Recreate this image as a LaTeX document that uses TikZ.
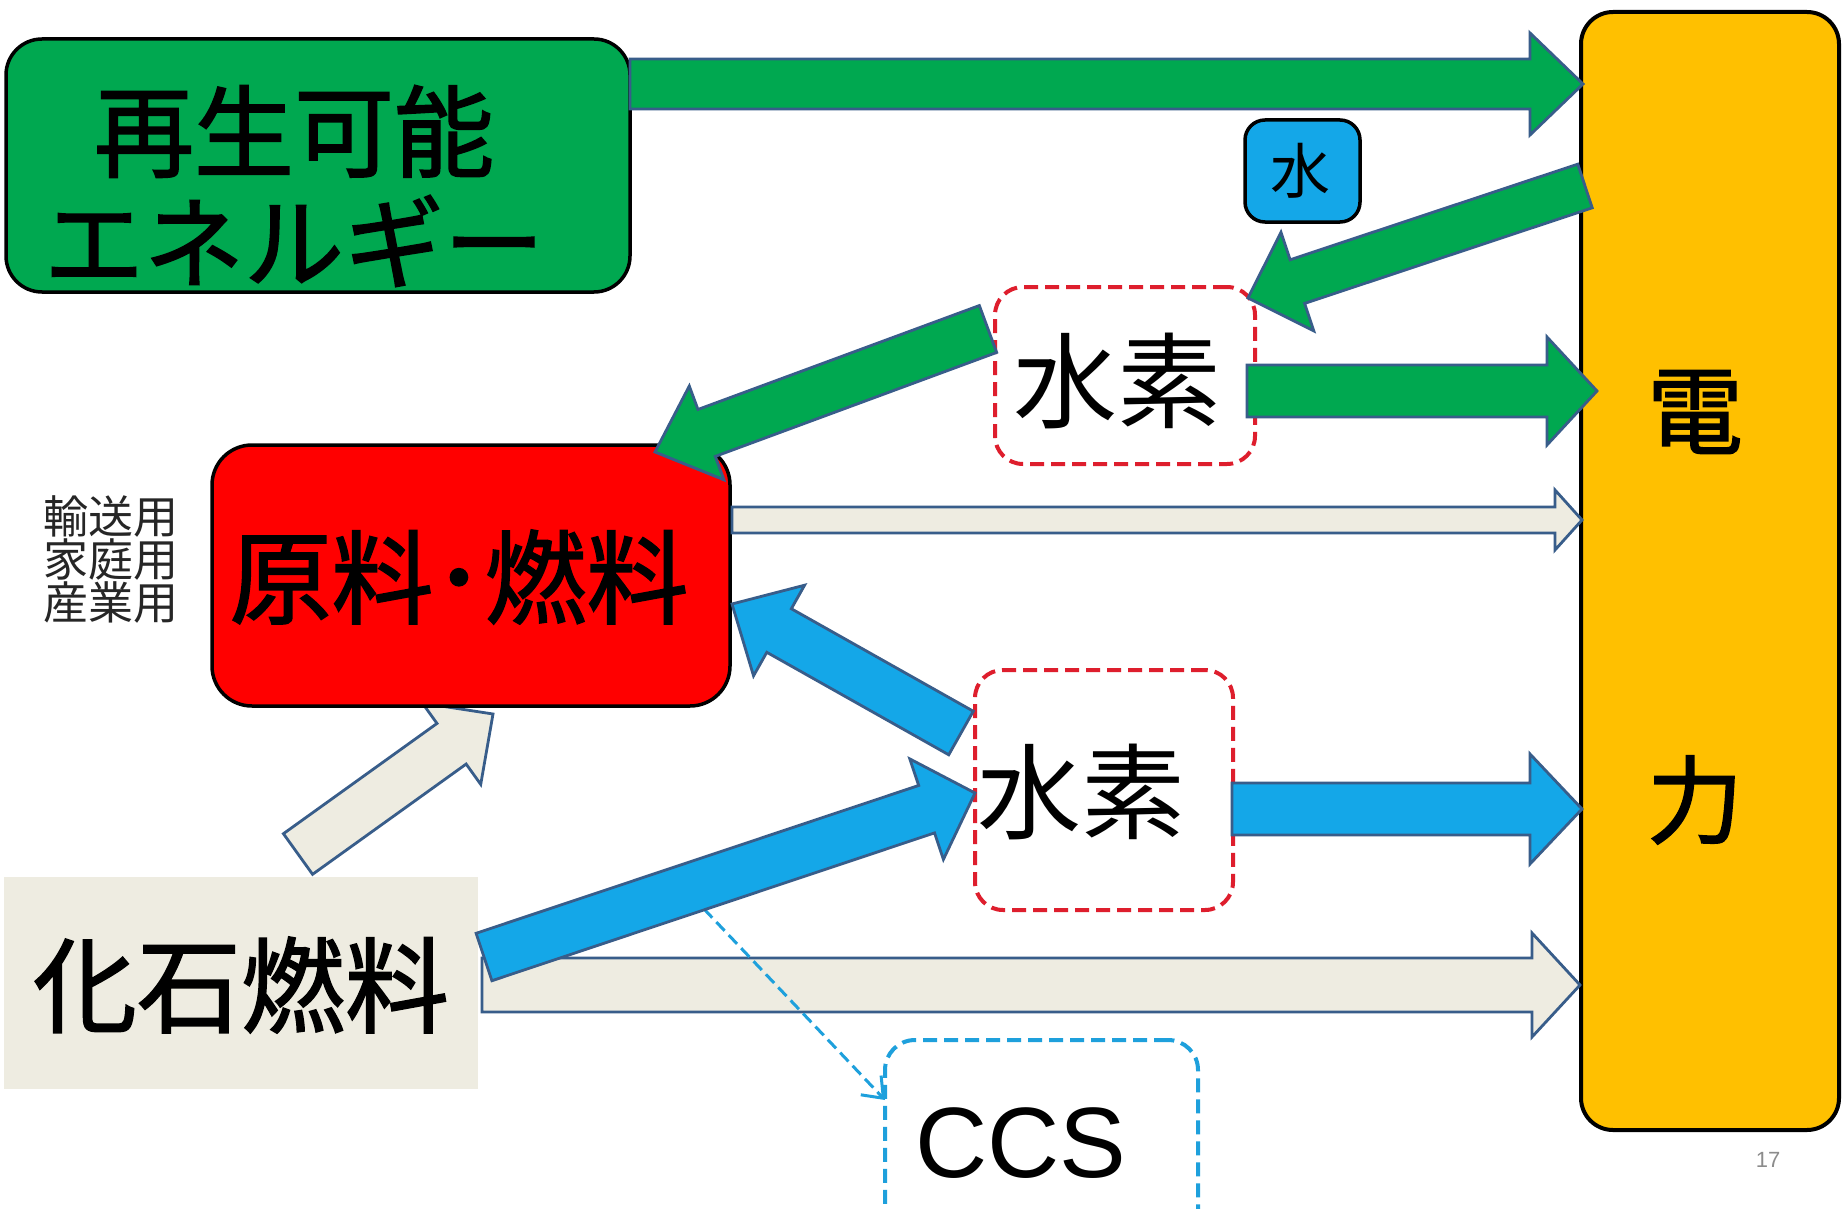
\documentclass[tikz,border=0pt]{standalone}
\usepackage{fontspec}
\setmainfont{Liberation Sans}
\newfontfamily\jp{Noto Sans CJK JP}
\newfontfamily\jpb[FakeBold=1.6]{Noto Sans CJK JP}
\usetikzlibrary{calc,arrows.meta}
\definecolor{rgreen}{RGB}{0,168,80}
\definecolor{aoutline}{RGB}{56,93,138}
\definecolor{hblue}{RGB}{20,167,232}
\definecolor{beige}{RGB}{238,236,225}
\definecolor{gold}{RGB}{255,192,0}
\definecolor{dred}{RGB}{222,30,45}
\definecolor{dblue}{RGB}{30,160,220}
% #1 style, #2 tail, #3 tip, #4 half shaft, #5 half head, #6 head length
\newcommand\blockarrow[6]{%
  \path[#1] let \p1=(#2), \p2=(#3),
    \n1={atan2(\y2-\y1,\x2-\x1)}, \n2={veclen(\x2-\x1,\y2-\y1)-#6}
  in ($(\p1)+(\n1+90:#4)$) -- ($(\p1)+(\n1:\n2)+(\n1+90:#4)$)
     -- ($(\p1)+(\n1:\n2)+(\n1+90:#5)$) -- (\p2)
     -- ($(\p1)+(\n1:\n2)+(\n1-90:#5)$) -- ($(\p1)+(\n1:\n2)+(\n1-90:#4)$)
     -- ($(\p1)+(\n1-90:#4)$) -- cycle;
}
\begin{document}
\begin{tikzpicture}[x=1pt,y=-1pt,
  solidbox/.style={draw=black, line width=3.5pt, inner sep=0pt},
  dashbox/.style={line width=4pt, inner sep=0pt, rounded corners=28pt, dash pattern=on 14pt off 7pt, fill=white},
  garrow/.style={fill=rgreen, draw=aoutline, line width=2.8pt, line join=miter},
  barrow/.style={fill=hblue, draw=aoutline, line width=2.8pt, line join=miter},
  earrow/.style={fill=beige, draw=aoutline, line width=2.8pt, line join=miter},
  bigtext/.style={font=\jpb\fontsize{100pt}{111pt}\selectfont, inner sep=0pt, align=center},
  ccsline/.style={draw=dblue, line width=3pt, dash pattern=on 12pt off 6pt, -{Straight Barb[length=18pt,width=28pt]}}
]
\useasboundingbox (0,0) rectangle (1846,1209);
\clip (0,0) rectangle (1846,1209);
\fill[white] (0,0) rectangle (1846,1209);

% coordinates for connectors
\coordinate (e3s) at (298,854);  \coordinate (e3t) at (493,714);
\coordinate (g1s) at (630,84);   \coordinate (g1t) at (1583,84);
\coordinate (g2s) at (1585,186); \coordinate (g2t) at (1248,298);
\coordinate (g3s) at (1247,391); \coordinate (g3t) at (1597,391);
\coordinate (g4s) at (988,329);  \coordinate (g4t) at (655,452);
\coordinate (e1s) at (732,520);  \coordinate (e1t) at (1582,520);
\coordinate (e2s) at (482,985);  \coordinate (e2t) at (1580,985);
\coordinate (b1s) at (484,957);  \coordinate (b1t) at (975,793);
\coordinate (b2s) at (961,733);  \coordinate (b2t) at (732,604);
\coordinate (b3s) at (1232,809); \coordinate (b3t) at (1582,809);
\coordinate (ccsfrom) at (704,909); \coordinate (ccsto) at (885,1100);

% beige arrow under the red box
\blockarrow{earrow}{e3s}{e3t}{25pt}{50pt}{51pt}

% boxes
\node[solidbox, fill=rgreen, rounded corners=36pt, minimum width=624pt, minimum height=253pt] (ren) at (318,165.5) {};
\node[bigtext] (rentext) at (294,186) {再生可能\\エネルギー};

\node[solidbox, fill=red, rounded corners=40pt, minimum width=518pt, minimum height=261pt] (gen) at (471,575.5) {};
\node[bigtext, font=\jpb\fontsize{102pt}{110pt}\selectfont] (gentext) at (459,577) {原料･燃料};

\node[font=\jp\fontsize{45pt}{43pt}\selectfont, align=center, inner sep=0pt, text=black!85] (use) at (111,559) {輸送用\\家庭用\\産業用};

\node[fill=beige, inner sep=0pt, minimum width=474pt, minimum height=212pt] (kas) at (241,983) {};
\node[bigtext, font=\jpb\fontsize{104pt}{110pt}\selectfont] (kastext) at (241,985) {化石燃料};

\node[solidbox, line width=4pt, fill=gold, rounded corners=32pt, minimum width=258pt, minimum height=1118pt] (den) at (1710,571) {};
\node[bigtext, font=\jpb\fontsize{96pt}{100pt}\selectfont] (dentext1) at (1695,412) {電};
\node[bigtext, font=\jpb\fontsize{96pt}{100pt}\selectfont] (dentext2) at (1695,800) {力};

\node[solidbox, line width=3.5pt, fill=hblue, rounded corners=20pt, minimum width=115pt, minimum height=102pt] (mizu) at (1302.5,171) {};
\node[font=\jp\fontsize{60pt}{60pt}\selectfont, inner sep=0pt] (mizutext) at (1300,171) {水};

\node[dashbox, draw=dred, minimum width=260pt, minimum height=177pt] (sui1) at (1125,375.5) {};
\node[bigtext, font=\jp\fontsize{104pt}{110pt}\selectfont] (sui1text) at (1117,381) {水素};

\node[dashbox, draw=dred, minimum width=258pt, minimum height=240pt] (sui2) at (1104,790) {};
\node[bigtext, font=\jp\fontsize{104pt}{110pt}\selectfont] (sui2text) at (1081,792) {水素};

\node[dashbox, draw=dblue, rounded corners=30pt, minimum width=313pt, minimum height=220pt] (ccs) at (1041.5,1150) {};
\node[font=\fontsize{100pt}{110pt}\selectfont, inner sep=0pt] (ccstext) at (1021,1143) {CCS};

\node[font=\fontsize{22pt}{24pt}\selectfont, text=black!45, inner sep=0pt] (page) at (1768,1160) {17};

% connectors
\blockarrow{garrow}{g1s}{g1t}{25pt}{51pt}{53pt}
\blockarrow{garrow}{g2s}{g2t}{23pt}{52pt}{52pt}
\blockarrow{garrow}{g3s}{g3t}{26pt}{54pt}{50pt}
\blockarrow{garrow}{g4s}{g4t}{25pt}{50pt}{55pt}
\blockarrow{earrow}{e1s}{e1t}{13pt}{30pt}{27pt}
\blockarrow{earrow}{e2s}{e2t}{27pt}{52pt}{48pt}
\draw[ccsline] (ccsfrom) -- (ccsto);
\blockarrow{barrow}{b1s}{b1t}{25pt}{53pt}{51pt}
\blockarrow{barrow}{b2s}{b2t}{25pt}{52pt}{54pt}
\blockarrow{barrow}{b3s}{b3t}{26pt}{55pt}{52pt}
\end{tikzpicture}
\end{document}
